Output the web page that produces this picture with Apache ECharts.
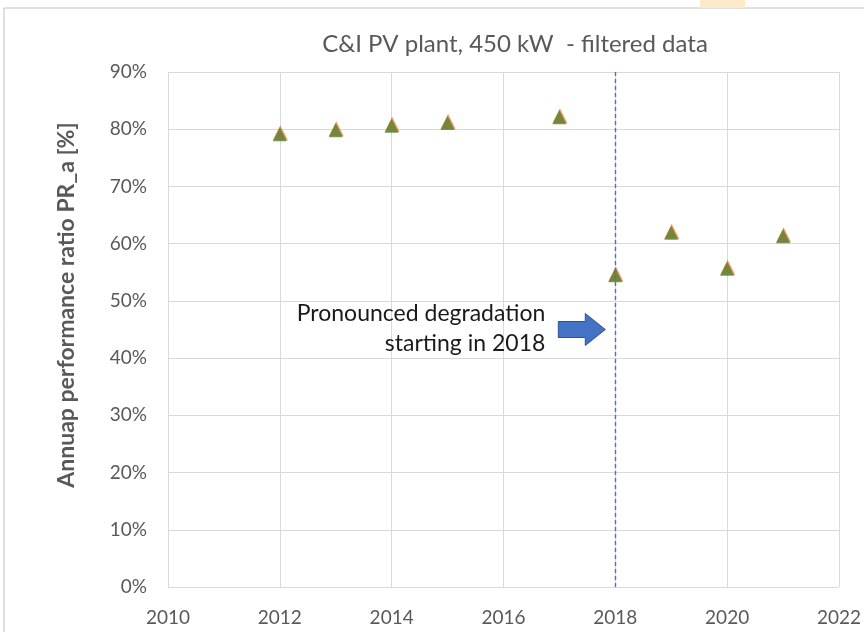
<!DOCTYPE html>
<html>
<head>
<meta charset="utf-8">
<script src="https://cdn.jsdelivr.net/npm/echarts@6/dist/echarts.min.js"></script>
<style>
    html, body { margin: 0; padding: 0; background: #fff; }
    #main { width: 864px; height: 632px; }
</style>
</head>
<body>
<div id="main"></div>
<script>
// annual PR values
var years = [2012, 2013, 2014, 2015, 2017, 2018, 2019, 2020, 2021];
var prMeasured = [79.1, 79.8, 80.6, 81.1, 82.1, 54.5, 61.9, 55.6, 61.3];
var prFiltered = [79.1, 79.8, 80.6, 81.1, 82.1, 54.5, 61.9, 55.6, 61.3];
var breakYear = 2018;
var noteLines = ['Pronounced degradation', 'starting in 2018'];
var yTitle = 'Annuap performance ratio PR_a [%]';

var FONT = 'Lato, "Open Sans", sans-serif';
var grey = '#595959';

var chart = echarts.init(document.getElementById('main'));

function pairs(vals) {
    var out = [];
    for (var i = 0; i < years.length; i++) {
        out.push([years[i], vals[i]]);
    }
    return out;
}

var option = {
    animation: false,
    title: {
        text: 'C&I PV plant, 450 kW  - filtered data',
        left: 510,
        top: 27,
        textAlign: 'center',
        textStyle: { fontFamily: FONT, fontSize: 24, fontWeight: 'normal', color: grey }
    },
    grid: { left: 168, right: 24, top: 72, bottom: 45 },
    xAxis: {
        type: 'value',
        min: 2010,
        max: 2022,
        interval: 2,
        axisLine: { show: false },
        axisTick: { show: false },
        splitLine: { show: true, lineStyle: { color: '#d9d9d9', width: 1 } },
        axisLabel: {
            color: grey, fontFamily: FONT, fontSize: 19, margin: 21,
            formatter: function (v) { return String(v); }
        }
    },
    yAxis: {
        type: 'value',
        min: 0,
        max: 90,
        interval: 10,
        axisLine: { show: false },
        axisTick: { show: false },
        splitLine: { show: true, lineStyle: { color: '#d9d9d9', width: 1 } },
        axisLabel: {
            color: grey, fontFamily: FONT, fontSize: 19, margin: 21,
            formatter: function (v) { return v + '%'; }
        }
    },
    series: [
        {
            type: 'scatter',
            data: pairs(prMeasured),
            symbol: 'triangle',
            symbolSize: 15,
            symbolOffset: [0.5, -1.5],
            itemStyle: { color: '#ed7d31' },
            z: 2
        },
        {
            type: 'scatter',
            data: pairs(prFiltered),
            symbol: 'triangle',
            symbolSize: 14,
            itemStyle: { color: '#548235' },
            z: 3,
            markLine: {
                silent: true,
                symbol: 'none',
                label: { show: false },
                lineStyle: { color: '#4472c4', type: [4, 3], width: 1.4 },
                data: [{ xAxis: breakYear }]
            }
        }
    ]
};

chart.setOption(option);

// annotation: text and arrow placed relative to the break line
var pBase = chart.convertToPixel({ gridIndex: 0 }, [breakYear, 45]);
var ax = pBase[0] - 57, ay = pBase[1];
chart.setOption({
    graphic: [
        {
            type: 'rect',
            shape: { x: 4, y: 8, width: 870, height: 640 },
            style: { fill: 'none', stroke: '#bfbfbf', lineWidth: 1 },
            silent: true
        },
        {
            type: 'rect',
            shape: { x: 700, y: 0, width: 45, height: 8 },
            style: { fill: '#fde9c9' },
            silent: true
        },
        {
            type: 'text',
            x: 67,
            y: 305,
            rotation: Math.PI / 2,
            style: {
                text: yTitle,
                fontFamily: FONT,
                fontSize: 23,
                fontWeight: 'bold',
                fill: grey,
                align: 'center',
                verticalAlign: 'middle'
            }
        },
        {
            type: 'text',
            x: ax - 13,
            y: ay - 1,
            style: {
                text: noteLines.join('\n'),
                fontFamily: FONT,
                fontSize: 23,
                lineHeight: 30,
                fill: '#1a1a1a',
                align: 'right',
                verticalAlign: 'middle'
            }
        },
        {
            type: 'polygon',
            shape: {
                points: [
                    [ax, ay - 8], [ax + 27, ay - 8], [ax + 27, ay - 16],
                    [ax + 47, ay], [ax + 27, ay + 16], [ax + 27, ay + 8], [ax, ay + 8]
                ]
            },
            style: { fill: '#4472c4', stroke: '#2f528f', lineWidth: 1 }
        }
    ]
});
</script>
</body>
</html>
